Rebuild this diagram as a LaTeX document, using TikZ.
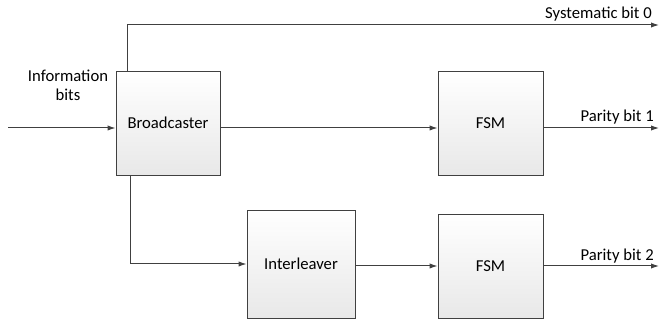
\documentclass[tikz,border=0pt]{standalone}
\usepackage{fontspec}
\setmainfont{Carlito}
\usetikzlibrary{arrows.meta,calc}
\definecolor{ln}{HTML}{404040}
\tikzset{
  blk/.style={draw=ln, line width=0.7pt, top color=white, bottom color=black!9,
    inner sep=0pt, font=\fontsize{12.5}{14}\selectfont},
  arr/.style={draw=ln, line width=0.75pt, -{Latex[length=6pt,width=4pt]}},
  lbl/.style={font=\fontsize{12.5}{14.25}\selectfont, text=black, inner sep=0pt}
}
\begin{document}
\begin{tikzpicture}[x=0.75pt,y=-0.75pt]
\useasboundingbox (0,0) rectangle (660,323);
% boxes
\node[blk, minimum width=78pt, minimum height=78pt] (b) at (168,123) {Broadcaster};
\node[blk, minimum width=78.75pt, minimum height=78pt] (f1) at (490.5,123) {FSM};
\node[blk, minimum width=81pt, minimum height=81pt] (il) at (301,264) {Interleaver};
\node[blk, minimum width=78.75pt, minimum height=78pt] (f2) at (490.5,266) {FSM};
% free ends
\coordinate (in) at (8,128);
\coordinate (s0) at (659,25);
\coordinate (p1) at (659,128);
\coordinate (p2) at (659,266);
% connectors
\draw[arr] (in) -- (in -| b.west);
\draw[arr] ([xshift=9pt]b.north west) |- (s0);
\draw[arr] ([yshift=-3.75pt]b.east) -- ([yshift=-3.75pt]f1.west);
\draw[arr] ([xshift=11.25pt]b.south west) |- (il.west);
\draw[arr] (f2.west -| il.east) -- (f2.west);
\draw[arr] (p1 -| f1.east) -- (p1);
\draw[arr] (f2.east) -- (p2);
% labels
\node[lbl, anchor=base east] (ls0) at (652,19) {Systematic bit 0};
\node[lbl, anchor=base east] (lp1) at (654,122) {Parity bit 1};
\node[lbl, anchor=base east] (lp2) at (654,261) {Parity bit 2};
\node[lbl, align=center, anchor=base] (linf) at (68,101) {Information\\bits};
\end{tikzpicture}
\end{document}
